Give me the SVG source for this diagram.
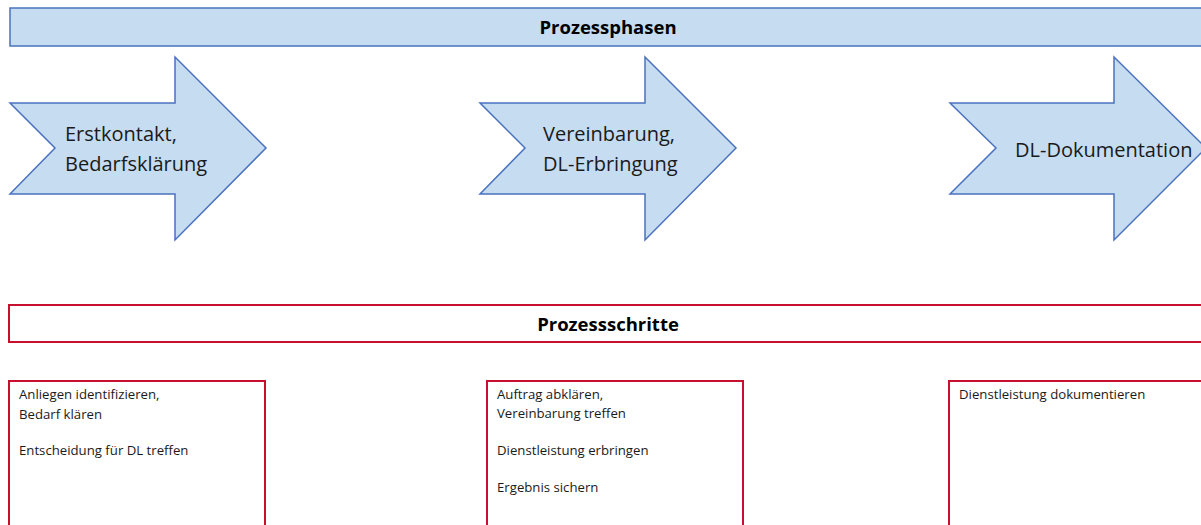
<svg xmlns="http://www.w3.org/2000/svg" width="1201" height="525" viewBox="0 0 1201 525">
<style>
.phase{fill:#C5DCF1;stroke:#4A72BE;stroke-width:1.5}
.step{fill:#FFFFFF;stroke:#C8102E;stroke-width:2}
.title{font-family:"Open Sans","Liberation Sans",sans-serif;font-weight:bold;font-size:18.5px;fill:#000;text-anchor:middle}
.alabel{font-family:"Open Sans","Liberation Sans",sans-serif;font-size:20px;fill:#1a1a1a}
.btext{font-family:"Open Sans","Liberation Sans",sans-serif;font-size:13.2px;fill:#1a1a1a}
</style>
<rect width="1201" height="525" fill="#FFFFFF"/>
<g id="phasen-header">
<rect class="phase" x="10" y="8" width="1200" height="38"/>
<text class="title" x="608" y="34">Prozessphasen</text>
</g>
<g id="phase1">
<polygon class="phase" points="10,103 175,103 175,57 266,148 175,240 175,194 10,194 55,148"/>
<text class="alabel" x="65" y="141">Erstkontakt,</text>
<text class="alabel" x="65" y="171">Bedarfsklärung</text>
</g>
<g id="phase2">
<polygon class="phase" points="480,103 645,103 645,57 736,148 645,240 645,194 480,194 525,148"/>
<text class="alabel" x="543" y="141">Vereinbarung,</text>
<text class="alabel" x="543" y="171">DL-Erbringung</text>
</g>
<g id="phase3">
<polygon class="phase" points="950,103 1114,103 1114,57 1206,148 1114,240 1114,194 950,194 996,148"/>
<text class="alabel" x="1015" y="157">DL-Dokumentation</text>
</g>
<g id="schritte-header">
<rect class="step" x="9" y="305" width="1200" height="37"/>
<text class="title" x="608" y="331">Prozessschritte</text>
</g>
<g id="step1">
<rect class="step" x="9" y="381" width="256" height="160"/>
<text class="btext" x="19" y="399">Anliegen identifizieren,</text>
<text class="btext" x="19" y="419">Bedarf klären</text>
<text class="btext" x="19" y="455">Entscheidung für DL treffen</text>
</g>
<g id="step2">
<rect class="step" x="487" y="381" width="256" height="160"/>
<text class="btext" x="497" y="399">Auftrag abklären,</text>
<text class="btext" x="497" y="418">Vereinbarung treffen</text>
<text class="btext" x="497" y="455">Dienstleistung erbringen</text>
<text class="btext" x="497" y="492">Ergebnis sichern</text>
</g>
<g id="step3">
<rect class="step" x="949" y="381" width="260" height="160"/>
<text class="btext" x="959" y="399">Dienstleistung dokumentieren</text>
</g>
<g id="connectors"></g>
</svg>
